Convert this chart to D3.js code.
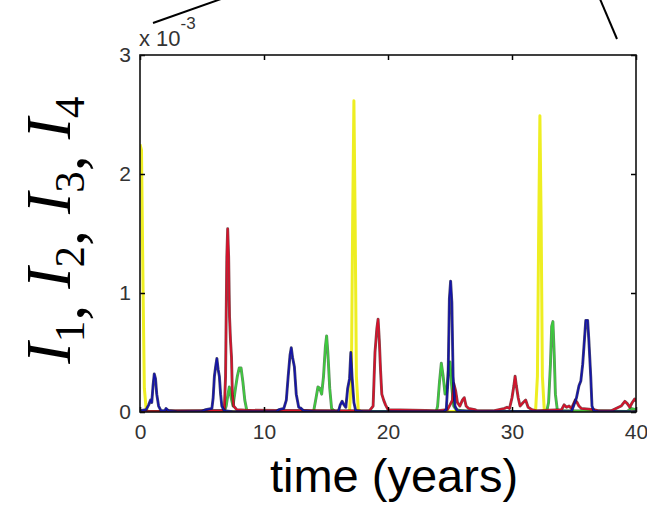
<!DOCTYPE html>
<html>
<head>
<meta charset="utf-8">
<script src="https://cdn.jsdelivr.net/npm/d3@7"></script>
<style>
  html, body { margin: 0; padding: 0; background: #fff; }
  svg { display: block; }
</style>
</head>
<body>
<svg id="chart" width="647" height="506"></svg>
<script>
// Infected fractions I1..I4 over 40 years (values in units of 1e-3).
// Each series: [time in years, value]
const seriesI1 = [ // blue
  [0,0.01],[0.5,0.02],[0.7,0.06],[0.85,0.1],[0.95,0.08],[1.05,0.22],[1.15,0.32],[1.25,0.28],[1.35,0.15],[1.5,0.05],[1.7,0.01],
  [2.0,0.01],[2.1,0.03],[2.3,0.01],[3,0.002],[5.0,0.005],[5.3,0.02],[5.8,0.03],[5.9,0.12],[6.0,0.3],[6.1,0.38],[6.2,0.45],
  [6.3,0.36],[6.4,0.3],[6.5,0.15],[6.6,0.05],[6.8,0.01],[7.5,0.003],[11,0.003],[11.2,0.02],[11.6,0.03],[11.8,0.1],[11.95,0.3],
  [12.1,0.48],[12.2,0.54],[12.3,0.46],[12.45,0.38],[12.6,0.15],[12.8,0.04],[13.0,0.03],[13.2,0.01],[14,0.003],[16.0,0.005],
  [16.15,0.06],[16.3,0.09],[16.45,0.06],[16.6,0.04],[16.75,0.2],[16.9,0.28],[17.0,0.5],[17.1,0.3],[17.25,0.08],[17.4,0.01],
  [18,0.003],[24.5,0.003],[24.7,0.02],[24.85,0.3],[24.95,0.95],[25.05,1.1],[25.15,0.92],[25.25,0.3],[25.4,0.05],[25.6,0.01],
  [27,0.003],[34.8,0.005],[35.0,0.06],[35.2,0.12],[35.4,0.22],[35.55,0.26],[35.7,0.4],[35.85,0.62],[35.95,0.77],[36.1,0.77],
  [36.2,0.6],[36.35,0.3],[36.45,0.05],[36.6,0.01],[37,0.003],[40,0.003]
];
const seriesI2 = [ // green
  [0,0.005],[6.8,0.005],[6.95,0.05],[7.1,0.15],[7.2,0.21],[7.35,0.12],[7.5,0.05],[7.7,0.2],[7.85,0.3],[8.0,0.37],[8.15,0.37],
  [8.3,0.25],[8.45,0.1],[8.6,0.02],[9,0.005],[14.0,0.005],[14.2,0.12],[14.35,0.21],[14.5,0.2],[14.65,0.15],[14.8,0.3],
  [14.95,0.55],[15.05,0.64],[15.15,0.5],[15.3,0.2],[15.45,0.03],[15.7,0.005],[23.9,0.005],[24.0,0.05],[24.15,0.25],[24.3,0.41],
  [24.45,0.3],[24.6,0.15],[24.75,0.2],[24.9,0.38],[25.0,0.42],[25.15,0.2],[25.3,0.05],[25.5,0.02],[26.0,0.01],[27,0.005],
  [32.8,0.005],[32.95,0.08],[33.1,0.4],[33.2,0.72],[33.3,0.76],[33.4,0.5],[33.5,0.15],[33.65,0.02],[34,0.01],[39.3,0.005],
  [39.6,0.03],[40,0.02]
];
const seriesI3 = [ // red
  [0,0.005],[2,0.005],[2.2,0.01],[6.5,0.012],[6.8,0.02],[6.9,0.3],[7.0,1.3],[7.07,1.54],[7.15,1.3],[7.22,0.8],[7.3,0.6],
  [7.38,0.46],[7.45,0.15],[7.55,0.05],[7.8,0.02],[8.5,0.015],[11,0.012],[13,0.012],[16,0.01],[18.5,0.01],[18.8,0.05],
  [18.95,0.5],[19.1,0.7],[19.2,0.78],[19.3,0.6],[19.4,0.35],[19.5,0.15],[19.65,0.1],[19.8,0.06],[20.0,0.02],[24,0.01],
  [24.8,0.02],[25.2,0.1],[25.3,0.24],[25.45,0.18],[25.6,0.08],[25.8,0.05],[26.0,0.1],[26.15,0.12],[26.3,0.05],[26.5,0.03],
  [27.0,0.02],[27.2,0.01],[28.5,0.01],[29.4,0.03],[29.6,0.04],[29.8,0.03],[30.0,0.12],[30.15,0.22],[30.25,0.3],[30.35,0.22],
  [30.5,0.12],[30.65,0.05],[30.9,0.08],[31.1,0.1],[31.3,0.04],[31.6,0.02],[32,0.01],[34.0,0.02],[34.2,0.06],[34.4,0.04],
  [34.6,0.05],[34.8,0.03],[35.1,0.1],[35.25,0.08],[35.4,0.05],[35.6,0.03],[36.6,0.02],[37,0.01],[38,0.01],[38.8,0.05],
  [39.1,0.09],[39.3,0.07],[39.5,0.04],[39.7,0.08],[39.9,0.11],[40,0.09]
];
const seriesI4 = [ // yellow
  [0,2.25],[0.12,2.2],[0.25,1.0],[0.35,0.2],[0.5,0.02],[0.7,0.005],[16.9,0.005],[17.05,0.3],[17.15,1.6],[17.25,2.615],
  [17.35,1.6],[17.45,0.3],[17.6,0.02],[17.8,0.005],[31.9,0.005],[32.05,0.3],[32.15,1.5],[32.25,2.49],[32.35,1.6],
  [32.45,0.3],[32.6,0.02],[32.8,0.005],[40,0.005]
];

const xTicks = [0, 10, 20, 30, 40];
const yTicks = [0, 1, 2, 3];
const xTitle = "time (years)";

const svg = d3.select("#chart");
const frame = { left: 140, right: 636, top: 55, bottom: 412 };

const x = d3.scaleLinear().domain([0, 40]).range([frame.left, frame.right]);
const y = d3.scaleLinear().domain([0, 3]).range([frame.bottom, frame.top]);

const line = d3.line().x(d => x(d[0])).y(d => y(d[1]));

const plot = svg.append("g");
plot.append("clipPath").attr("id", "clip")
  .append("rect").attr("x", frame.left).attr("y", frame.top)
  .attr("width", frame.right - frame.left).attr("height", frame.bottom - frame.top);

const layers = [
  { data: seriesI4, color: "#eeee22", edge: null, w: 3 },
  { data: seriesI2, color: "#3ccc3c", edge: "#2a6a2a", w: 1.6 },
  { data: seriesI3, color: "#d8102a", edge: "#5a0a10", w: 1.6 },
  { data: seriesI1, color: "#1414a8", edge: "#0a0a40", w: 1.6 }
];
const g = plot.append("g").attr("clip-path", "url(#clip)");
layers.forEach(l => {
  if (l.edge) {
    g.append("path").datum(l.data).attr("d", line)
      .attr("fill", "none").attr("stroke", l.edge).attr("stroke-width", l.w + 1.3)
      .attr("stroke-opacity", 0.75).attr("stroke-linejoin", "round");
  }
  g.append("path").datum(l.data).attr("d", line)
    .attr("fill", "none").attr("stroke", l.color).attr("stroke-width", l.w)
    .attr("stroke-linejoin", "round");
});

// Box and inward ticks on all four sides
const font = "'Liberation Sans', Arial, sans-serif";
const fmt = d3.format("d");
const axB = svg.append("g").attr("transform", `translate(0,${frame.bottom})`)
  .call(d3.axisBottom(x).tickValues(xTicks).tickFormat(fmt).tickSizeInner(-5).tickSizeOuter(0).tickPadding(12));
const axT = svg.append("g").attr("transform", `translate(0,${frame.top})`)
  .call(d3.axisTop(x).tickValues(xTicks).tickSizeInner(-5).tickSizeOuter(0).tickFormat(""));
const axL = svg.append("g").attr("transform", `translate(${frame.left},0)`)
  .call(d3.axisLeft(y).tickValues(yTicks).tickFormat(fmt).tickSizeInner(-5).tickSizeOuter(0).tickPadding(9));
const axR = svg.append("g").attr("transform", `translate(${frame.right},0)`)
  .call(d3.axisRight(y).tickValues(yTicks).tickSizeInner(-5).tickSizeOuter(0).tickFormat(""));
[axB, axT, axL, axR].forEach(a => {
  a.select(".domain").remove();
  a.selectAll(".tick line").attr("stroke", "#000").attr("stroke-width", 1.5);
  a.selectAll(".tick text").attr("fill", "#333").style("font-family", font).style("font-size", "21px");
});
svg.append("rect").attr("x", frame.left).attr("y", frame.top)
  .attr("width", frame.right - frame.left).attr("height", frame.bottom - frame.top)
  .attr("fill", "none").attr("stroke", "#111").attr("stroke-width", 1.6);

// Exponent marker
const ex = svg.append("text").attr("x", frame.left - 1).attr("y", 46)
  .style("font-family", font).style("font-size", "22px").attr("fill", "#333");
ex.append("tspan").text("x 10");
ex.append("tspan").attr("dy", -17).style("font-size", "17px").text("-3");

// Callout lines running off the top edge
svg.append("line").attr("x1", 153).attr("y1", 23).attr("x2", 221).attr("y2", -1)
  .attr("stroke", "#000").attr("stroke-width", 2);
svg.append("line").attr("x1", 600).attr("y1", -1).attr("x2", 617).attr("y2", 39)
  .attr("stroke", "#000").attr("stroke-width", 2);

// Axis titles
svg.append("text").attr("x", 394).attr("y", 492).attr("text-anchor", "middle")
  .style("font-family", font).style("font-size", "47px").attr("fill", "#000").text(xTitle);

const yt = svg.append("text").attr("transform", "translate(70,230) rotate(-90)").attr("text-anchor", "middle")
  .style("font-family", "'Liberation Serif', 'Times New Roman', serif").style("font-size", "64px").attr("fill", "#000");
[1, 2, 3, 4].forEach((k, i) => {
  yt.append("tspan").style("font-style", "italic").attr("dy", i === 0 ? 0 : -14).text("I");
  yt.append("tspan").attr("dy", 14).style("font-size", "43px").text(k);
  if (k < 4) yt.append("tspan").text(", ");
});
</script>
</body>
</html>
